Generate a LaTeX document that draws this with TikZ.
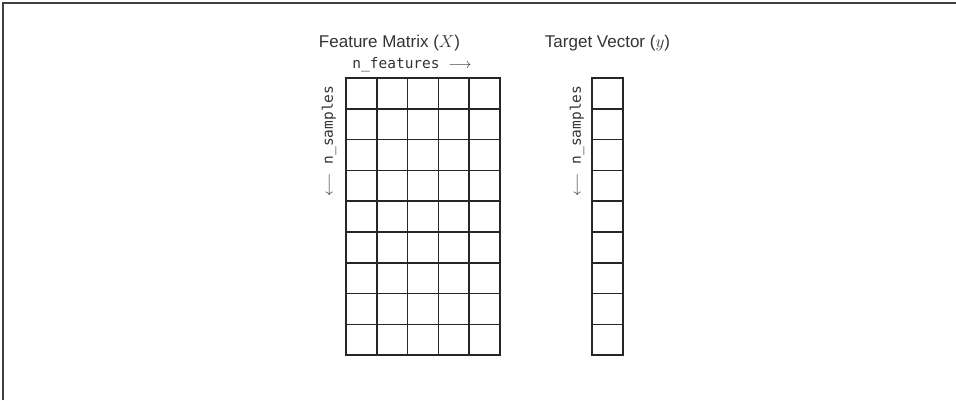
\documentclass[tikz,border=0pt]{standalone}
\usepackage{fontspec}
\setmainfont{Liberation Sans}
\setmonofont{DejaVu Sans Mono}
\begin{document}
\begin{tikzpicture}[x=1pt, y=-1pt, line width=1.5pt,
    cell/.style={draw=black!85, minimum size=30.8pt, inner sep=0pt, outer sep=0pt},
    title/.style={font=\fontsize{17}{20}\selectfont, text=black!80, anchor=base},
    dimlabel/.style={font=\fontsize{14.5}{17}\selectfont\ttfamily, text=black!80}]
    \useasboundingbox (0,0) rectangle (956,400);
    % frame, only top and left edges show
    \draw[line width=2pt, black!75] (3,400) -- (3,3) -- (956,3);
    % feature matrix X: 9 samples x 5 features
    \foreach \i in {0,...,4}
        \foreach \j in {0,...,8}
            \node[cell] (x-\j-\i) at ({361.4+30.8*\i},{93.4+30.8*\j}) {};
    % target vector y
    \foreach \j in {0,...,8}
        \node[cell] (y-\j) at (607.5,{93.4+30.8*\j}) {};
    \node[title] (xtitle) at (389.5,47) {Feature Matrix ($X$)};
    \node[title] (ytitle) at (607.5,47) {Target Vector ($y$)};
    \node[dimlabel, anchor=base] (nfeat) at (412,68) {n\_features $\longrightarrow$};
    \node[dimlabel, rotate=90] (xsamp) at (329,141) {$\longleftarrow$ n\_samples};
    \node[dimlabel, rotate=90] (ysamp) at (577,141) {$\longleftarrow$ n\_samples};
\end{tikzpicture}
\end{document}
